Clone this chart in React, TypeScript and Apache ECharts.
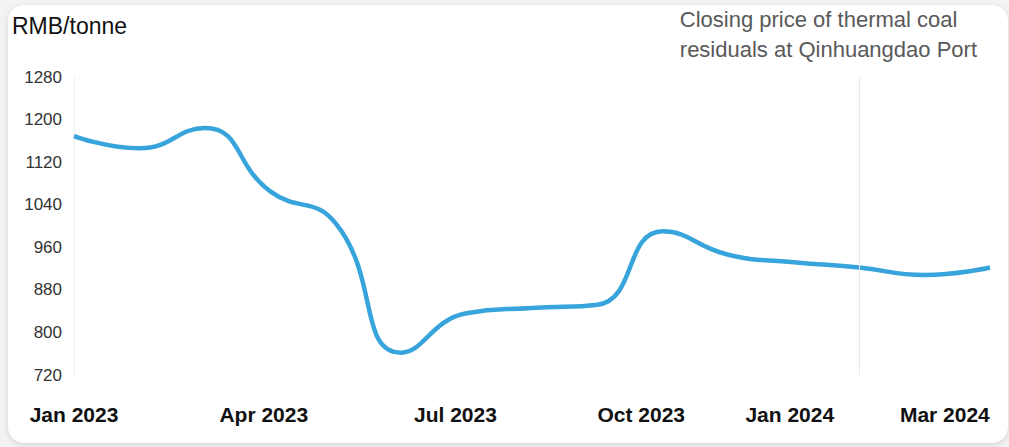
import React, { useEffect, useRef } from "react";
import * as echarts from "echarts";

const months = [
  "Jan 2023", "Feb 2023", "Mar 2023", "Apr 2023", "May 2023", "Jun 2023", "Jul 2023",
  "Aug 2023", "Sep 2023", "Oct 2023", "Nov 2023", "Dec 2023", "Jan 2024", "Feb 2024", "Mar 2024",
];
const prices = [1169, 1146, 1184, 1065, 1005, 762, 836, 846, 852, 990, 946, 932, 922, 908, 922];
const tickLabels = ["Jan 2023", "Apr 2023", "Jul 2023", "Oct 2023", "Jan 2024", "Mar 2024"];
const tickPositions = [0, 2.9, 5.83, 8.67, 10.94, 13.31];
const markerMonth = "Jan 2024";
const yTicks = { min: 720, max: 1280, interval: 80 };
const unitLabel = "RMB/tonne";
const titleText = "Closing price of thermal coal\nresiduals at Qinhuangdao Port";

export default function App() {
  const ref = useRef<HTMLDivElement>(null);
  useEffect(() => {
    document.body.style.margin = "0";
    const chart = echarts.init(ref.current!, null, { renderer: "svg" });
    const font = "'Liberation Sans', Arial, sans-serif";
    chart.setOption({
      animation: false,
      grid: { left: 74, right: 19, top: 77, bottom: 72, containLabel: false },
      graphic: [
        {
          type: "text",
          left: 12,
          top: 14,
          style: { text: unitLabel, font: `23px ${font}`, fill: "#111" },
        },
        {
          type: "text",
          right: 32,
          top: 4,
          style: {
            text: titleText,
            font: `22px ${font}`,
            fill: "#595959",
            align: "right",
            lineHeight: 30,
          },
        },
      ],
      xAxis: {
        type: "value",
        min: 0,
        max: months.length - 1,
        axisLine: { show: false },
        axisTick: { show: false },
        splitLine: { show: false },
        axisLabel: {
          customValues: tickPositions,
          formatter: (v: number) => {
            const i = tickPositions.findIndex((p) => Math.abs(p - v) < 1e-6);
            return i >= 0 ? tickLabels[i] : "";
          },
          fontFamily: font,
          fontSize: 21,
          fontWeight: "bold",
          color: "#111",
          margin: 29,
        },
      },
      yAxis: {
        type: "value",
        min: yTicks.min,
        max: yTicks.max,
        interval: yTicks.interval,
        axisLine: { show: true, lineStyle: { color: "#eeeeee", width: 1 } },
        axisTick: { show: false },
        splitLine: { show: false },
        axisLabel: {
          fontFamily: font,
          fontSize: 17,
          color: "#333",
          margin: 12,
          formatter: (v: number) => String(v),
        },
      },
      series: [
        {
          type: "line",
          data: prices.map((v, i) => [i, v]),
          smooth: 0.5,
          showSymbol: false,
          lineStyle: { color: "#38a4dc", width: 4.5 },
          markLine: {
            silent: true,
            symbol: "none",
            label: { show: false },
            lineStyle: { color: "#e8e8e8", width: 1, type: "solid" },
            data: [{ xAxis: months.indexOf(markerMonth) }],
          },
        },
      ],
    });
    return () => chart.dispose();
  }, []);
  return (
    <div style={{ position: "relative", width: 1009, height: 447, background: "#f3f3f3", overflow: "hidden" }}>
      <div
        style={{
          position: "absolute",
          left: 8,
          top: 5,
          width: 1000,
          height: 438,
          background: "#fff",
          borderRadius: 16,
          boxShadow: "0 2px 6px rgba(0,0,0,0.12)",
        }}
      />
      <div ref={ref} style={{ position: "absolute", left: 0, top: 0, width: 1009, height: 447 }} />
    </div>
  );
}
